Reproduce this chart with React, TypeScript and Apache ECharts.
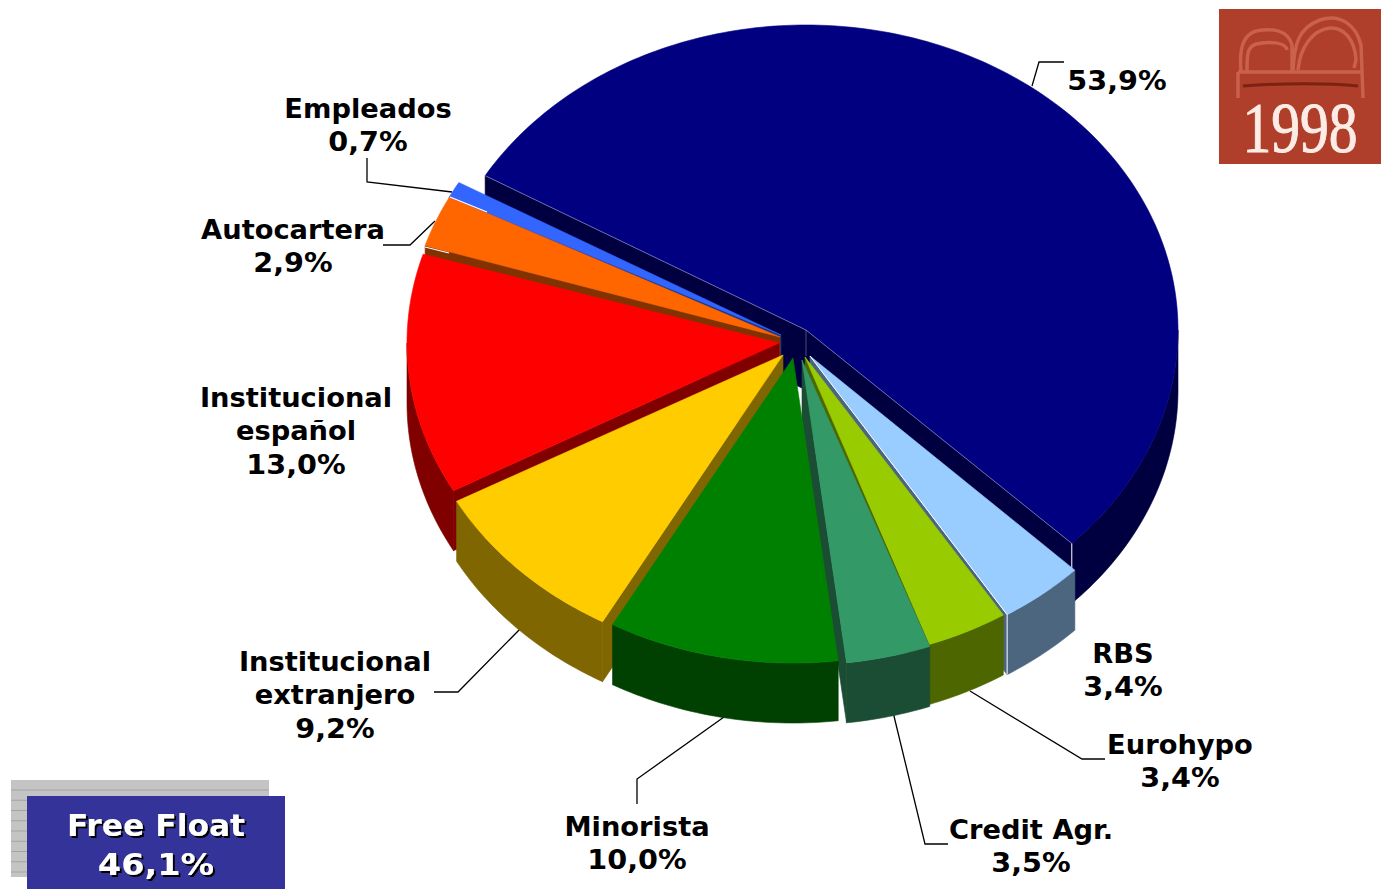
import React, { useEffect, useRef } from "react";
import * as echarts from "echarts";

const categories = ["Principal", "RBS", "Eurohypo", "Credit Agr.", "Minorista", "Institucional\nextranjero", "Institucional\nespañol", "Autocartera", "Empleados"];
const values = [53.9, 3.4, 3.4, 3.5, 10.0, 9.2, 13.0, 2.9, 0.7];
const freeFloat = 46.1;
const showName = [false, true, true, true, true, true, true, true, true];

const topColors = ["#000080", "#99CCFF", "#99CC00", "#339966", "#008000", "#FFCC00", "#FF0000", "#FF6600", "#3366FF"];
const sideColors = ["#000040", "#4D6680", "#4D6600", "#1A4D33", "#004000", "#806600", "#800000", "#803300", "#1A3380"];

// layout of the exploded slices (apex x, apex y, angular corrections in degrees)
const apexX = [806, 810, 805, 802, 793, 783, 779, 780, 781];
const apexY = [330, 356, 357, 360, 358, 355, 343, 337, 335];
const startFix = [0.4, 0.56, 1.5, 1.4, 1.9, 1.9, 0.8, 0.4, -0.6];
const endFix = [0.36, 1.72, 1.9, 2.0, 1.9, 1.1, -0.1, -0.2, 0];
const drawOrder = [0, 8, 7, 6, 5, 1, 2, 3, 4];
const labelX = [1117, 1123, 1180, 1031, 637, 335, 296, 293, 368];
const labelY = [81, 670, 761, 846, 843, 695, 431, 246, 125];
const leaders = [
  [[1032, 86], [1039, 62], [1064, 62]],
  [[970, 691], [1082, 759], [1105, 759]],
  [[893, 712], [925, 844], [948, 844]],
  [[724, 717], [637, 779], [637, 804]],
  [[522, 627], [458, 692], [434, 692]],
  [[435, 221], [410, 245], [383, 245]],
  [[452, 192], [367, 182], [367, 158]],
];
const accents = [
  [[450, 197], [487, 212]],
  [[425, 247], [449, 253]],
];
const RX = 372;
const RY = 305;
const DEPTH = 60;
const START_ANGLE = -60;
const LABEL_FONT = '"DejaVu Sans"';

const startAngles: number[] = [];
values.reduce((acc, v, i) => {
  startAngles[i] = acc;
  return acc + (v / 100) * 360;
}, START_ANGLE);

function rimPoint(i: number, deg: number, drop = 0): number[] {
  const r = (deg * Math.PI) / 180;
  return [apexX[i] + RX * Math.sin(r), apexY[i] - RY * Math.cos(r) + drop];
}

function arc(i: number, from: number, to: number, drop = 0): number[][] {
  const pts: number[][] = [];
  const n = Math.max(2, Math.ceil(Math.abs(to - from)));
  for (let k = 0; k <= n; k++) pts.push(rimPoint(i, from + ((to - from) * k) / n, drop));
  return pts;
}

function renderSlice(_p: any, api: any) {
  const i = api.value(0);
  const a0 = startAngles[i] + startFix[i];
  const a1 = startAngles[i] + (api.value(1) / 100) * 360 + endFix[i];
  const apex = [apexX[i], apexY[i]];
  const apexLow = [apex[0], apex[1] + DEPTH];
  const side = sideColors[i];
  const children: any[] = [];
  const poly = (points: number[][], fill: string) =>
    children.push({
      type: "polygon",
      shape: { points },
      style: { fill, stroke: fill, lineWidth: 0.6 },
    });
  if (Math.sin((a0 * Math.PI) / 180) < 0) {
    poly([apex, rimPoint(i, a0), rimPoint(i, a0, DEPTH), apexLow], side);
  }
  if (Math.sin((a1 * Math.PI) / 180) > 0) {
    poly([apex, rimPoint(i, a1), rimPoint(i, a1, DEPTH), apexLow], side);
  }
  const w0 = Math.max(a0, 90);
  const w1 = Math.min(a1, 270);
  if (w1 > w0) {
    poly([...arc(i, w0, w1), ...arc(i, w1, w0, DEPTH)], side);
  }
  poly([apex, ...arc(i, a0, a1)], topColors[i]);
  if (i === 0) {
    const end = rimPoint(i, a1);
    children.push({
      type: "polyline",
      shape: { points: [rimPoint(i, a0), apex, end] },
      style: { fill: "none", stroke: "rgba(255,255,255,0.4)", lineWidth: 1 },
    });
    children.push({
      type: "line",
      shape: { x1: apex[0], y1: apex[1], x2: apex[0], y2: apex[1] + 26 },
      style: { stroke: "rgba(255,255,255,0.3)", lineWidth: 1 },
    });
    children.push({
      type: "line",
      shape: { x1: end[0], y1: end[1], x2: end[0], y2: end[1] + 26 },
      style: { stroke: "#fff", lineWidth: 1 },
    });
  }
  if (i === 1) {
    children.push({
      type: "polyline",
      shape: { points: [apex, rimPoint(i, a1), rimPoint(i, a1, DEPTH)] },
      style: { fill: "none", stroke: "#fff", lineWidth: 1 },
    });
  }
  return { type: "group", children };
}

const bookPath =
  "M1241 72 C1239 48 1243 35 1256 31 C1272 28 1288 30 1292 45 L1292 72 M1293 72 C1294 45 1298 28 1320 20 C1340 13 1356 25 1361 45 L1363 98 M1247 72 C1247 55 1247 47 1256 44 C1268 41 1286 42 1287 50 M1298 70 C1300 48 1312 30 1330 28 C1344 27 1355 40 1356 60 L1354 68 M1238 72 L1362 72 M1238 98 L1238 72";

function pct(v: number) {
  return v.toFixed(1).replace(".", ",") + "%";
}

export default function App() {
  const ref = useRef<HTMLDivElement>(null);
  useEffect(() => {
    document.body.style.margin = "0";
    echarts.graphic.registerShape("bookLogo", echarts.graphic.extendPath(bookPath, {}));
    const chart = echarts.init(ref.current!, undefined, { renderer: "svg" });
    const graphic: any[] = [
      { type: "rect", shape: { x: 1219, y: 9, width: 162, height: 155 }, style: { fill: "#AF3E2B" } },
      {
        type: "bookLogo",
        x: 0,
        y: 0,
        style: { fill: "none", stroke: "#C9614C", lineWidth: 3.5 },
      },
      {
        type: "bezierCurve",
        shape: { x1: 1243, y1: 86, cpx1: 1280, cpy1: 83, cpx2: 1330, cpy2: 83, x2: 1358, y2: 86 },
        style: { fill: "none", stroke: "#7A2312", lineWidth: 3 },
      },
      {
        type: "text",
        x: 1300,
        y: 128,
        scaleX: 0.8,
        style: {
          text: "1998",
          font: '72px "Liberation Serif"',
          fill: "#FBEDE6",
          stroke: "#FBEDE6",
          lineWidth: 1,
          align: "center",
          verticalAlign: "middle",
        },
      },
      { type: "rect", shape: { x: 11, y: 780, width: 258, height: 97 }, style: { fill: "#C4C4C4" } },
    ];
    for (let y = 790; y < 877; y += 10.25) {
      graphic.push({
        type: "line",
        shape: { x1: 11, y1: y, x2: 269, y2: y },
        style: { stroke: "#A4A4A4", lineWidth: 1 },
      });
    }
    graphic.push({ type: "rect", shape: { x: 27, y: 796, width: 258, height: 93 }, style: { fill: "#333399" } });
    const boxShadow = {
      textShadowColor: "#000",
      textShadowOffsetX: 2,
      textShadowOffsetY: 2,
      textShadowBlur: 0.5,
    };
    graphic.push({
      type: "text",
      x: 156,
      y: 826,
      scaleX: 1.056,
      style: {
        text: "Free Float",
        font: `bold 29.7px ${LABEL_FONT}`,
        fill: "#fff",
        align: "center",
        verticalAlign: "middle",
        ...boxShadow,
      },
    });
    graphic.push({
      type: "text",
      x: 156,
      y: 865,
      scaleX: 1.13,
      style: {
        text: pct(freeFloat),
        font: `bold 29.7px ${LABEL_FONT}`,
        fill: "#fff",
        align: "center",
        verticalAlign: "middle",
        ...boxShadow,
      },
    });
    leaders.concat([]).forEach((points) =>
      graphic.push({
        type: "polyline",
        shape: { points },
        style: { fill: "none", stroke: "#000", lineWidth: 1.3 },
      })
    );
    values.forEach((v, i) => {
      const nameLines = showName[i] ? categories[i].split("\n").length : 0;
      const total = nameLines + 1;
      const lineStep = 33.5;
      const top = labelY[i] - ((total - 1) * lineStep) / 2;
      if (nameLines) {
        graphic.push({
          type: "text",
          x: labelX[i],
          y: top + ((nameLines - 1) * lineStep) / 2,
          scaleX: 1.03,
          style: {
            text: categories[i],
            font: `bold 26.5px ${LABEL_FONT}`,
            lineHeight: lineStep,
            fill: "#000",
            align: "center",
            verticalAlign: "middle",
          },
        });
      }
      graphic.push({
        type: "text",
        x: labelX[i],
        y: top + nameLines * lineStep,
        scaleX: 1.08,
        style: {
          text: pct(v),
          font: `bold 26.5px ${LABEL_FONT}`,
          fill: "#000",
          align: "center",
          verticalAlign: "middle",
        },
      });
    });
    chart.setOption({
      animation: false,
      backgroundColor: "#fff",
      series: [
        {
          type: "custom",
          coordinateSystem: "none",
          clip: false,
          silent: true,
          z: 1,
          renderItem: renderSlice,
          data: drawOrder.map((i) => [i, values[i]]),
        },
      ],
      graphic: [
        ...graphic,
        ...accents.map((points) => ({
          type: "polyline",
          z: 100,
          shape: { points },
          style: { fill: "none", stroke: "#fff", lineWidth: 1.2 },
        })),
      ],
    });
    return () => chart.dispose();
  }, []);
  return <div ref={ref} style={{ width: 1381, height: 889, position: "absolute", left: 0, top: 0 }} />;
}
